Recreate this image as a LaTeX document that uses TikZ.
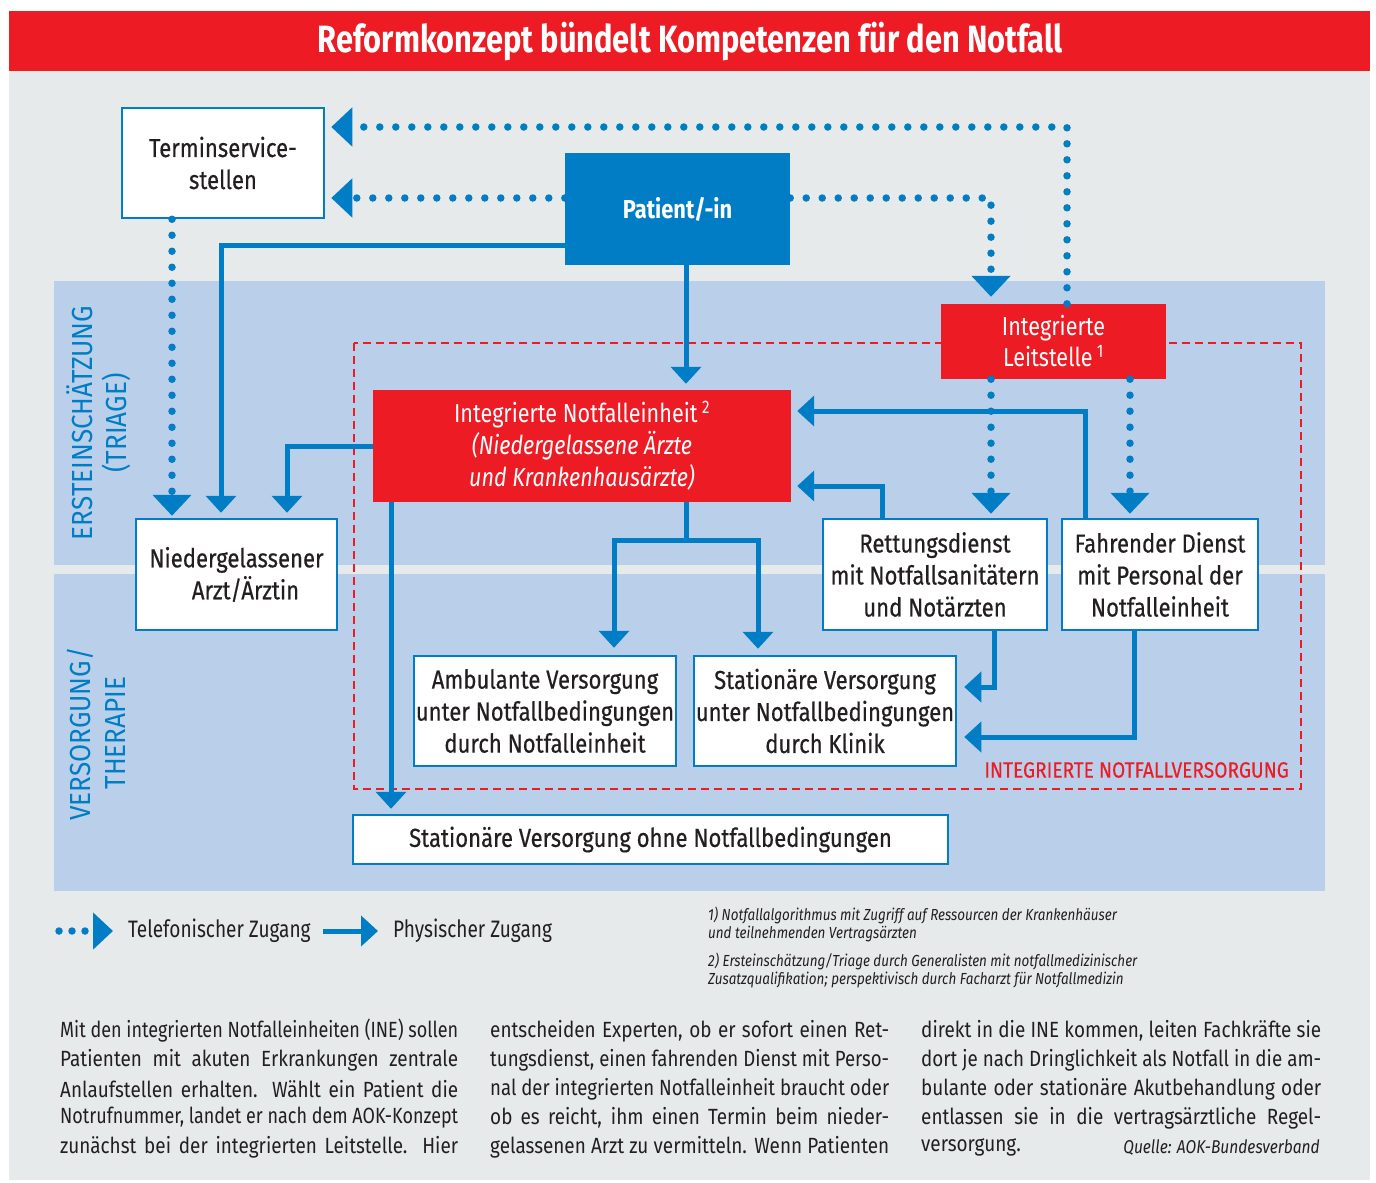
\documentclass[tikz,border=0pt]{standalone}
\usepackage{fontspec}
\usepackage{graphicx}
\setmainfont{Fira Sans}[FakeStretch=0.8]
\newfontfamily\titlefont{Fira Sans}[FakeStretch=0.81]
\newfontfamily\boxfont{Fira Sans}[FakeStretch=0.85,FakeBold=0.5]
\newfontfamily\redfont{Fira Sans}[FakeStretch=0.83]
\newfontfamily\patfont{Fira Sans}[FakeStretch=0.84]
\newfontfamily\labelfont{Fira Sans}[FakeStretch=0.9]
\newfontfamily\bodyfont{Fira Sans}[FakeStretch=0.86]
\newfontfamily\footfont{Fira Sans}[FakeStretch=0.84]
\newfontfamily\invfont{Fira Sans}[FakeStretch=0.87,FakeBold=0.3]
\newsavebox\jbox
\newcommand\jline[2]{\sbox\jbox{#2}\ifdim\wd\jbox>#1\relax\resizebox{#1}{\height}{#2}\else\makebox[#1][s]{#2}\fi}
\usetikzlibrary{arrows.meta}
\definecolor{ablue}{RGB}{0,125,197}
\definecolor{ared}{RGB}{237,28,36}
\definecolor{bggrey}{RGB}{230,234,235}
\definecolor{band}{RGB}{186,208,234}
\definecolor{tdark}{RGB}{35,31,32}
\begin{document}
\begin{tikzpicture}[x=1pt,y=-1pt,
  tel/.style={draw=ablue,line width=7.5pt,line cap=round,dash pattern=on 0pt off 16pt,-{Triangle[width=38pt,length=21pt]}},
  phys/.style={draw=ablue,line width=5pt,-{Triangle[width=30pt,length=17pt]}},
  physline/.style={draw=ablue,line width=5pt},
  wbox/.style={draw=ablue,line width=2.5pt,fill=white,align=center,inner sep=0pt,text=tdark,font=\boxfont\fontsize{26}{32}\selectfont},
  rbox/.style={fill=ared,align=center,inner sep=0pt,text=white,font=\redfont\fontsize{26}{32}\selectfont},
  sidelabel/.style={rotate=90,text=ablue,font=\labelfont\fontsize{29}{32}\selectfont},
  bodyline/.style={anchor=west,inner sep=0pt,text=tdark,font=\bodyfont\fontsize{22}{26}\selectfont},
  foot/.style={anchor=west,inner sep=0pt,text=tdark,font=\footfont\itshape\fontsize{16}{19}\selectfont},
  legtext/.style={anchor=west,inner sep=0pt,text=tdark,font=\fontsize{23.8}{28}\selectfont}]
\useasboundingbox (0,0) rectangle (1376,1183);
\fill[white] (0,0) rectangle (1376,1183);
\fill[bggrey] (9,71) rectangle (1370,1180);
\fill[ared] (9,11) rectangle (1370,71);
\node[text=white,font=\titlefont\bfseries\fontsize{38}{40}\selectfont] (title) at (690,42) {Reformkonzept bündelt Kompetenzen für den Notfall};
% bands
\fill[band] (54,281) rectangle (1325,565);
\fill[band] (54,574) rectangle (1325,891);
\node[sidelabel] (lab1) at (80,423) {ERSTEINSCHÄTZUNG};
\node[sidelabel] (lab2) at (116,423) {(TRIAGE)};
\node[sidelabel] (lab3) at (80,734) {VERSORGUNG/};
\node[sidelabel] (lab4) at (116,733) {THERAPIE};
% dashed region
\draw[ared,line width=2.2pt,dash pattern=on 8pt off 5pt] (354,343) rectangle (1301,789);
\node[anchor=east,inner sep=0pt,text=ared,font=\invfont\fontsize{22}{24}\selectfont] (inv) at (1289,770) {INTEGRIERTE NOTFALLVERSORGUNG};
% nodes
\node[wbox,minimum width=202pt,minimum height=110pt] (term) at (223,163) {Terminservice-\\stellen};
\node[fill=ablue,minimum width=225pt,minimum height=112pt,inner sep=0pt,text=white,font=\patfont\bfseries\fontsize{26}{30}\selectfont] (patient) at (677.5,209) {Patient/-in};
\node[rbox,minimum width=225pt,minimum height=75pt,font=\redfont\fontsize{26}{31}\selectfont] (leit) at (1053.5,341.5) {Integrierte\\Leitstelle\,\textsuperscript{1}};
\node[rbox,minimum width=418pt,minimum height=112pt] (ine) at (582,446) {Integrierte Notfalleinheit\,\textsuperscript{2}\\\itshape(Niedergelassene Ärzte\\\itshape und Krankenhausärzte)};
\node[wbox,minimum width=201pt,minimum height=111pt] (arzt) at (236.5,574.5) {Niedergelassener\\\hspace*{18pt}Arzt/Ärztin};
\node[wbox,minimum width=224pt,minimum height=111pt] (rett) at (935,574.5) {Rettungsdienst\\mit Notfallsanitätern\\und Notärzten};
\node[wbox,minimum width=196pt,minimum height=111pt] (fahr) at (1160,574.5) {Fahrender Dienst\\mit Personal der\\Notfalleinheit};
\node[wbox,minimum width=262pt,minimum height=110pt] (amb) at (545,711) {Ambulante Versorgung\\unter Notfallbedingungen\\durch Notfalleinheit};
\node[wbox,minimum width=262pt,minimum height=110pt] (stat) at (825,711) {Stationäre Versorgung\\unter Notfallbedingungen\\durch Klinik};
\node[wbox,minimum width=595pt,minimum height=49pt] (ohne) at (650.5,839.5) {Stationäre Versorgung ohne Notfallbedingungen};
% telephonic connectors
\draw[tel,shorten >=6pt] ([xshift=13.5pt]leit.north) |- ([yshift=36pt]term.east);
\draw[tel,shorten >=6pt] ([yshift=11pt]patient.west) -- ([yshift=-35pt]term.east);
\draw[tel,shorten >=7pt] ([yshift=11pt]patient.east) -| ([xshift=-62.5pt]leit.north);
\draw[tel,shorten >=2pt] ([xshift=-51pt]term.south) -- ([xshift=-51pt]term.south |- arzt.north);
\draw[tel,shorten >=4pt] ([xshift=-62.5pt]leit.south) -- ([xshift=-62.5pt]leit.south |- rett.north);
\draw[tel,shorten >=4pt] ([xshift=76.5pt]leit.south) -- ([xshift=76.5pt]leit.south |- fahr.north);
% physical connectors
\draw[phys,shorten >=5pt] ([yshift=-36pt]patient.west) -| ([xshift=-15.5pt]arzt.north);
\draw[phys,shorten >=5pt] (ine.west) -| ([xshift=50.5pt]arzt.north);
\draw[phys,shorten >=6pt] ([xshift=8.5pt]patient.south) -- ([xshift=8.5pt]patient.south |- ine.north);
\draw[phys,shorten >=5pt] ([xshift=-191pt]ine.south) -- ([xshift=-191pt]ine.south |- ohne.north);
\coordinate (split) at ([xshift=104pt,yshift=-38pt]ine.south);
\draw[physline] ([xshift=104pt]ine.south) -- (split);
\draw[phys,shorten >=7pt] (split) -| ([xshift=69pt]amb.north);
\draw[phys,shorten >=6pt] (split) -| ([xshift=-67pt]stat.north);
\draw[phys,shorten >=6pt] ([xshift=-53pt]rett.north) |- ([yshift=-40pt]ine.east);
\draw[phys,shorten >=6pt] ([xshift=-75pt]fahr.north) |- ([yshift=35pt]ine.east);
\draw[phys,shorten >=7pt] ([xshift=59pt]rett.south) |- ([yshift=24pt]stat.east);
\draw[phys,shorten >=7pt] ([xshift=-26pt]fahr.south) |- ([yshift=-26pt]stat.east);
% legend
\coordinate (lt0) at (59,931);
\coordinate (lt1) at (113,931);
\draw[tel,dash pattern=on 0pt off 13pt,-{Triangle[width=36pt,length=20pt]}] (lt0) -- (lt1);
\node[legtext] (legt) at (128,931) {Telefonischer Zugang};
\coordinate (lp0) at (323,931);
\coordinate (lp1) at (378,931);
\draw[phys] (lp0) -- (lp1);
\node[legtext] (legp) at (393,931) {Physischer Zugang};
% footnotes
\node[foot] (f1) at (708,915) {1) Notfallalgorithmus mit Zugriff auf Ressourcen der Krankenhäuser};
\node[foot] (f1b) at (708,934) {und teilnehmenden Vertragsärzten};
\node[foot] (f2) at (708,961) {2) Ersteinschätzung/Triage durch Generalisten mit notfallmedizinischer};
\node[foot] (f2b) at (708,980) {Zusatzqualifikation; perspektivisch durch Facharzt für Notfallmedizin};
% body text
\node[bodyline] (a1) at (60,1031) {\jline{398pt}{Mit den integrierten Notfalleinheiten (INE) sollen}};
\node[bodyline] (a2) at (60,1060) {\jline{398pt}{Patienten mit akuten Erkrankungen zentrale}};
\node[bodyline] (a3) at (60,1089) {\jline{398pt}{Anlaufstellen erhalten. Wählt ein Patient die}};
\node[bodyline] (a4) at (60,1118) {\jline{398pt}{Notrufnummer, landet er nach dem AOK-Konzept}};
\node[bodyline] (a5) at (60,1147) {\jline{398pt}{zunächst bei der integrierten Leitstelle. Hier}};
\node[bodyline] (b1) at (490,1031) {\jline{399pt}{entscheiden Experten, ob er sofort einen Ret-}};
\node[bodyline] (b2) at (490,1060) {\jline{399pt}{tungsdienst, einen fahrenden Dienst mit Perso-}};
\node[bodyline] (b3) at (490,1089) {\jline{399pt}{nal der integrierten Notfalleinheit braucht oder}};
\node[bodyline] (b4) at (490,1118) {\jline{399pt}{ob es reicht, ihm einen Termin beim nieder-}};
\node[bodyline] (b5) at (490,1147) {\jline{399pt}{gelassenen Arzt zu vermitteln. Wenn Patienten}};
\node[bodyline] (c1) at (921,1031) {\jline{400pt}{direkt in die INE kommen, leiten Fachkräfte sie}};
\node[bodyline] (c2) at (921,1060) {\jline{400pt}{dort je nach Dringlichkeit als Notfall in die am-}};
\node[bodyline] (c3) at (921,1089) {\jline{400pt}{bulante oder stationäre Akutbehandlung oder}};
\node[bodyline] (c4) at (921,1118) {\jline{400pt}{entlassen sie in die vertragsärztliche Regel-}};
\node[bodyline] (c5) at (921,1147) {versorgung.};
\node[anchor=east,inner sep=0pt,text=tdark,font=\footfont\itshape\fontsize{18.5}{20}\selectfont] (src) at (1320,1148) {Quelle: AOK-Bundesverband};
\end{tikzpicture}
\end{document}
